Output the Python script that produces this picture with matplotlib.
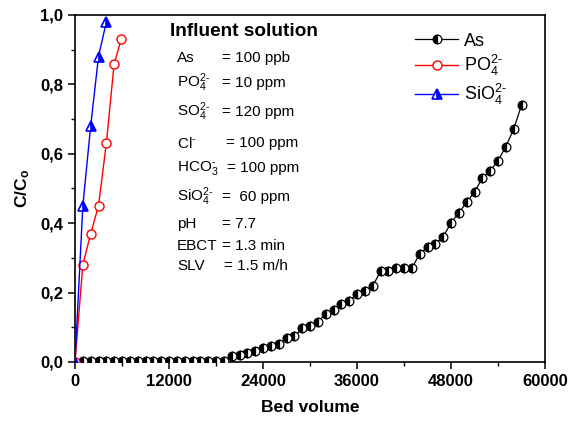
import matplotlib
matplotlib.use("Agg")
import matplotlib.pyplot as plt
from matplotlib.ticker import MultipleLocator, FuncFormatter

plt.rcParams["font.family"] = ["Liberation Sans", "DejaVu Sans"]
plt.rcParams["mathtext.fontset"] = "custom"
plt.rcParams["mathtext.rm"] = "Liberation Sans"
plt.rcParams["mathtext.it"] = "Liberation Sans:italic"
plt.rcParams["mathtext.bf"] = "Liberation Sans:bold"

# As breakthrough
as_bv = [1000, 2000, 3000, 4000, 5000, 6000, 7000, 8000, 9000, 10000,
         11000, 12000, 13000, 14000, 15000, 16000, 17000, 18000, 19000,
         20000, 21000, 22000, 23000, 24000, 25000, 26000, 27000, 28000, 29000,
         30000, 31000, 32000, 33000, 34000, 35000, 36000, 37000, 38000, 39000,
         40000, 41000, 42000, 43000, 44000, 45000, 46000, 47000, 48000, 49000,
         50000, 51000, 52000, 53000, 54000, 55000, 56000, 57000]
as_c = [0.003] * 19 + [
    0.016, 0.020, 0.026, 0.032, 0.040, 0.047, 0.052, 0.068, 0.074, 0.097,
    0.104, 0.116, 0.138, 0.151, 0.167, 0.176, 0.195, 0.205, 0.219, 0.261,
    0.261, 0.270, 0.270, 0.270, 0.312, 0.331, 0.341, 0.361, 0.401, 0.430,
    0.460, 0.490, 0.530, 0.551, 0.580, 0.621, 0.671, 0.740]

# phosphate
po4_bv = [0, 1000, 2000, 3000, 4000, 5000, 5900]
po4_c = [0.0, 0.28, 0.37, 0.45, 0.63, 0.86, 0.93]

# silicate
sio4_bv = [0, 1000, 2000, 3000, 4000]
sio4_c = [0.0, 0.45, 0.68, 0.88, 0.98]

info_names = ["As", "PO$_4^{2\\text{-}}$", "SO$_4^{2\\text{-}}$", "Cl$^{\\text{-}}$",
              "HCO$_3^{\\text{-}}$", "SiO$_4^{2\\text{-}}$", "pH", "EBCT", "SLV"]
info_values = ["= 100 ppb", "= 10 ppm", "= 120 ppm", "= 100 ppm", "= 100 ppm",
               "=  60 ppm", "= 7.7", "= 1.3 min", "= 1.5 m/h"]

fig = plt.figure(figsize=(5.73, 4.26), dpi=100)
ax = fig.add_axes([75 / 573, 64 / 426, 470 / 573, 347 / 426])

ax.plot(as_bv, as_c, color="black", lw=0.9, marker="o", ms=6.3,
        fillstyle="left", mfc="black", mfcalt="white", mec="black", mew=0.9,
        label="As", zorder=3)
ax.plot(po4_bv, po4_c, color="red", lw=1.0, marker="o", ms=6.5,
        mfc="white", mec="red", mew=1.0, label="PO$_4^{2\\text{-}}$", zorder=3)
ax.plot(sio4_bv, sio4_c, color="blue", lw=1.0, marker="^", ms=6.5,
        fillstyle="right", mfc="blue", mfcalt="white", mec="blue", mew=1.2,
        label="SiO$_4^{2\\text{-}}$", zorder=3)

ax.set_xlim(0, 60000)
ax.set_ylim(0, 1.0)
ax.xaxis.set_major_locator(MultipleLocator(12000))
ax.xaxis.set_minor_locator(MultipleLocator(6000))
ax.yaxis.set_major_locator(MultipleLocator(0.2))
ax.yaxis.set_minor_locator(MultipleLocator(0.1))
ax.yaxis.set_major_formatter(FuncFormatter(lambda v, p: f"{v:.1f}".replace(".", ",")))
ax.tick_params(which="major", direction="out", length=5, width=1.1,
               labelsize=12, top=False, right=False)
ax.tick_params(which="minor", direction="out", length=3, width=1.0,
               top=False, right=False)
for lab in ax.get_xticklabels() + ax.get_yticklabels():
    lab.set_fontweight("bold")
for sp in ax.spines.values():
    sp.set_linewidth(1.2)

ax.set_xlabel("Bed volume", fontsize=12.5, fontweight="bold", labelpad=8)
ax.set_ylabel("C/C$_\\mathbf{o}$", fontsize=12.5, fontweight="bold", labelpad=6)

ax.legend(loc="upper left", bbox_to_anchor=(0.708, 0.97), frameon=False,
          fontsize=13, handlelength=2.4, handletextpad=0.3, labelspacing=0.2,
          borderaxespad=0)

fig.text(170 / 573, 1 - 32 / 426, "Influent solution", fontsize=13.7,
         fontweight="bold", va="center", ha="left")
ys = [58, 83, 112, 143, 168, 197, 224, 246, 266]
xs_val = [222, 222, 222, 226, 227, 222, 222, 222, 224]
for name, val, y, xv in zip(info_names, info_values, ys, xs_val):
    fig.text(177 / 573, 1 - y / 426, name, fontsize=11, va="center", ha="left")
    fig.text(xv / 573, 1 - y / 426, val, fontsize=11, va="center", ha="left")

fig.savefig("out.png", dpi=100)
